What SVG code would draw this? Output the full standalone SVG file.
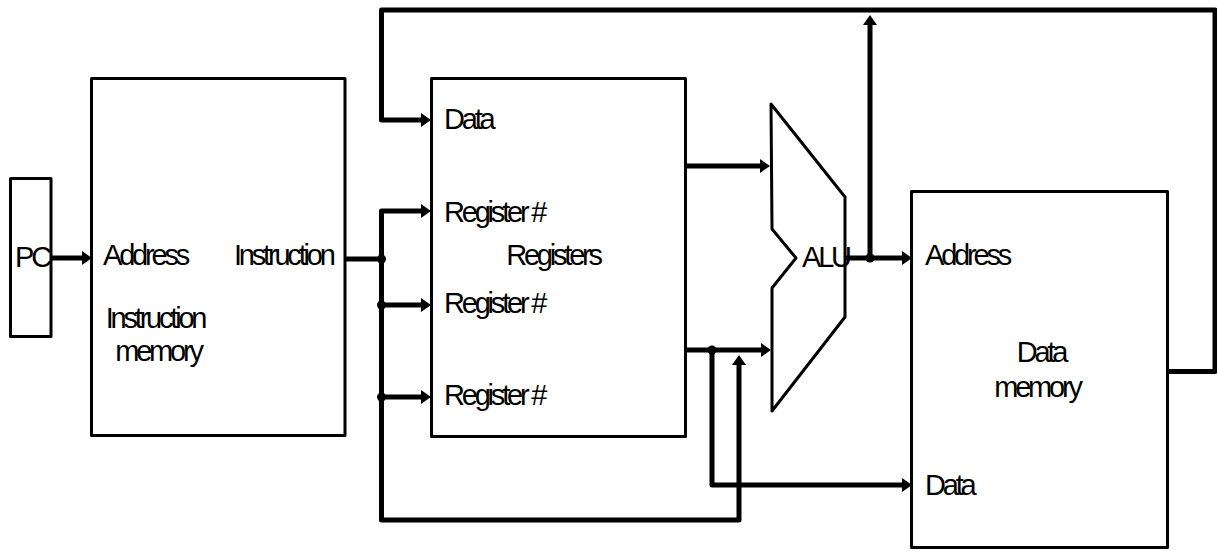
<svg xmlns="http://www.w3.org/2000/svg" width="1217" height="551" viewBox="0 0 1217 551">
<style>
.box{fill:#fff;stroke:#000;stroke-width:3;stroke-linejoin:round}
.wire{fill:none;stroke:#000;stroke-width:5;stroke-linejoin:round}
.arr{marker-end:url(#ah)}
.dot{fill:#000}
text{font-family:"Liberation Sans",Arial,sans-serif;font-size:29px;letter-spacing:-3.2px;fill:#000}
</style>
<defs>
<marker id="ah" markerUnits="userSpaceOnUse" markerWidth="12" markerHeight="16" refX="0" refY="7" orient="auto">
<path d="M0,0 L10,7 L0,14 z" fill="#000"/>
</marker>
</defs>
<rect width="1217" height="551" fill="#fff"/>
<g id="pc">
<rect class="box" x="10.5" y="178.5" width="40.5" height="158"/>
<text x="15" y="267">PC</text>
</g>
<g id="instruction-memory">
<rect class="box" x="91.5" y="78.5" width="253.5" height="357"/>
<text x="103" y="265">Address</text>
<text x="234" y="265">Instruction</text>
<text x="155" y="328" text-anchor="middle">Instruction</text>
<text x="158" y="361" text-anchor="middle">memory</text>
</g>
<g id="registers">
<rect class="box" x="431.5" y="78.5" width="254" height="358"/>
<text x="444" y="129">Data</text>
<text x="444" y="222">Register #</text>
<text x="553" y="265" text-anchor="middle">Registers</text>
<text x="444" y="313">Register #</text>
<text x="444" y="405">Register #</text>
</g>
<g id="alu">
<polygon class="box" points="771,104 845,197 845,317 772,411 772,288 796,258 772,229"/>
<text x="802" y="267">ALU</text>
</g>
<g id="data-memory">
<rect class="box" x="911.5" y="191.5" width="256" height="356"/>
<text x="925" y="265">Address</text>
<text x="1041" y="362" text-anchor="middle">Data</text>
<text x="1037" y="397" text-anchor="middle">memory</text>
<text x="925" y="495">Data</text>
</g>
<g id="connectors">
<path class="wire arr" d="M1168,371.5 H1215 V10 H381.5 V120 H421"/>
<path class="wire arr" d="M51,258 H82"/>
<path class="wire" d="M345,259 H381.5"/>
<path class="wire arr" d="M381.5,259 V211 H421"/>
<path class="wire arr" d="M381.5,259 V520 H739 V365"/>
<path class="wire arr" d="M381.5,305 H421"/>
<path class="wire arr" d="M381.5,397 H421"/>
<path class="wire arr" d="M686,166 H760"/>
<path class="wire arr" d="M686,350 H761"/>
<path class="wire arr" d="M712,350 V485 H902"/>
<path class="wire arr" d="M845,258 H902"/>
<path class="wire arr" d="M870,258 V25"/>
<circle class="dot" cx="381.5" cy="259" r="4.5"/>
<circle class="dot" cx="381.5" cy="305" r="4.5"/>
<circle class="dot" cx="381.5" cy="397" r="4.5"/>
<circle class="dot" cx="712" cy="350" r="4.5"/>
<circle class="dot" cx="870" cy="258" r="4.5"/>
</g>
</svg>
